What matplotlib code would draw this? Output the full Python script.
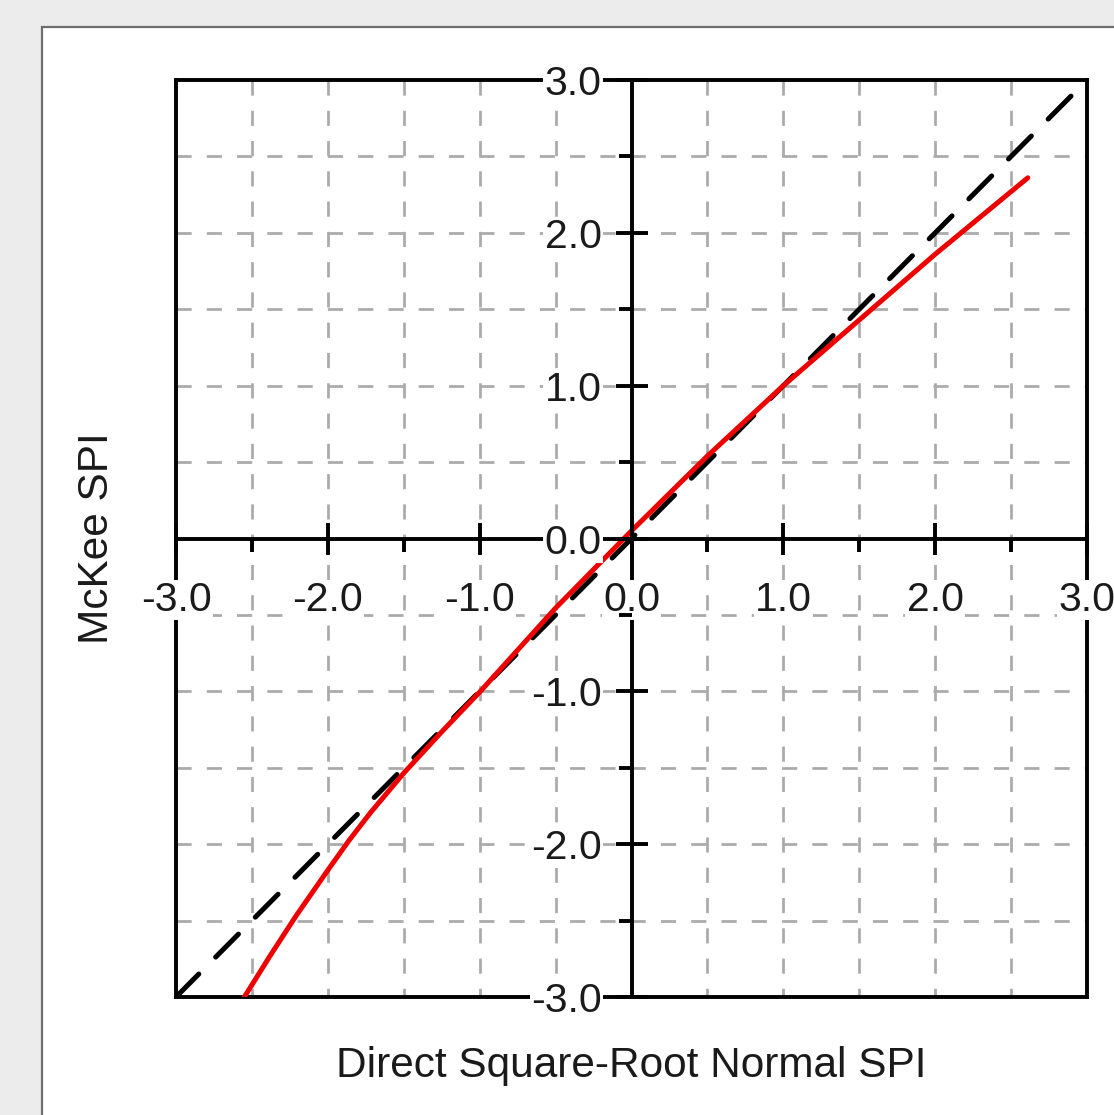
import matplotlib
matplotlib.use("Agg")
from matplotlib import pyplot as plt
from matplotlib.patches import Rectangle
import numpy as np

# data
line_x = [-3.0, 2.93]
line_y = [-3.0, 2.93]
mckee_x = [-2.55, -2.38, -2.21, -2.0, -1.86, -1.72, -1.5, -1.25, -1.0, -0.5,
           0.0, 0.5, 1.0, 1.5, 2.0, 2.61]
mckee_y = [-3.0, -2.73, -2.47, -2.17, -1.975, -1.795, -1.535, -1.265, -1.005, -0.455,
           0.05, 0.54, 1.0, 1.43, 1.86, 2.36]
major_ticks = [-3.0, -2.0, -1.0, 0.0, 1.0, 2.0, 3.0]
minor_ticks = [-2.5, -1.5, -0.5, 0.5, 1.5, 2.5]
grid_vals = [-2.5, -2.0, -1.5, -1.0, -0.5, 0.5, 1.0, 1.5, 2.0, 2.5]
tick_text = ["%.1f" % v for v in major_ticks]

plt.rcParams['font.family'] = ['Liberation Sans', 'DejaVu Sans']
plt.rcParams['lines.scale_dashes'] = False

W, H = 1114, 1115
fig = plt.figure(figsize=(W / 100, H / 100), dpi=100)
fig.patch.set_facecolor('#ececec')
# white panel behind the chart
fig.add_artist(Rectangle((42 / W, -0.05), 1.2, 1.05 - 27 / H,
                         transform=fig.transFigure, facecolor='white',
                         edgecolor='#6e6e6e', lw=1.6, zorder=-5))

rect = [176 / W, (H - 997) / H, 911 / W, 917 / H]
ax = fig.add_axes(rect)
ax.set_xlim(-3, 3)
ax.set_ylim(-3, 3)
ax.set_xticks([])
ax.set_yticks([])
for s in ax.spines.values():
    s.set_linewidth(2.8)
    s.set_color('black')

# dashed grid, drawn from the left / top edge so the pattern starts there
for g in grid_vals:
    ax.plot([-3, 3], [g, g], color='#ababab', lw=2.0, dashes=(10.9, 10.9), zorder=1)
    ax.plot([g, g], [3, -3], color='#ababab', lw=2.0, dashes=(10.9, 10.9), zorder=1)

ax.plot(line_x, line_y, color='black', lw=3.6, dashes=(23.3, 17.2),
        dash_capstyle='round', zorder=3)
ax.plot(mckee_x, mckee_y, color='#ee0000', lw=3.6, solid_capstyle='round',
        solid_joinstyle='round', zorder=4)

# centred axes with ticks and labels
ax2 = fig.add_axes(rect)
ax2.set_xlim(-3, 3)
ax2.set_ylim(-3, 3)
ax2.patch.set_visible(False)
ax2.set_axisbelow(False)
ax2.spines['top'].set_visible(False)
ax2.spines['right'].set_visible(False)
ax2.spines['left'].set_position('zero')
ax2.spines['bottom'].set_position('zero')
for s in ('left', 'bottom'):
    ax2.spines[s].set_linewidth(2.8)
ax2.set_xticks(major_ticks)
ax2.set_xticklabels(tick_text)
ax2.set_yticks(major_ticks)
ax2.set_yticklabels(tick_text)
ax2.set_xticks(minor_ticks, minor=True)
ax2.set_yticks(minor_ticks, minor=True)
ax2.tick_params(which='major', direction='inout', length=23, width=2.8,
                labelsize=29.5, labelcolor='#1a1a1a')
ax2.tick_params(which='minor', direction='out', length=9.5, width=2.8)
ax2.tick_params(axis='x', which='major', pad=19)
ax2.tick_params(axis='y', which='major', pad=10)
for lab in ax2.get_xticklabels() + ax2.get_yticklabels():
    lab.set_bbox(dict(facecolor='white', edgecolor='none', pad=1))

fig.text(631 / W, 1 - 1066 / H, "Direct Square-Root Normal SPI", fontsize=30.5,
         color='#1a1a1a', ha='center', va='center')
fig.text(97 / W, 1 - 538 / H, "McKee SPI", fontsize=30.5, color='#1a1a1a',
         rotation=90, ha='center', va='center')

fig.savefig("out.png", dpi=100, facecolor=fig.get_facecolor())
